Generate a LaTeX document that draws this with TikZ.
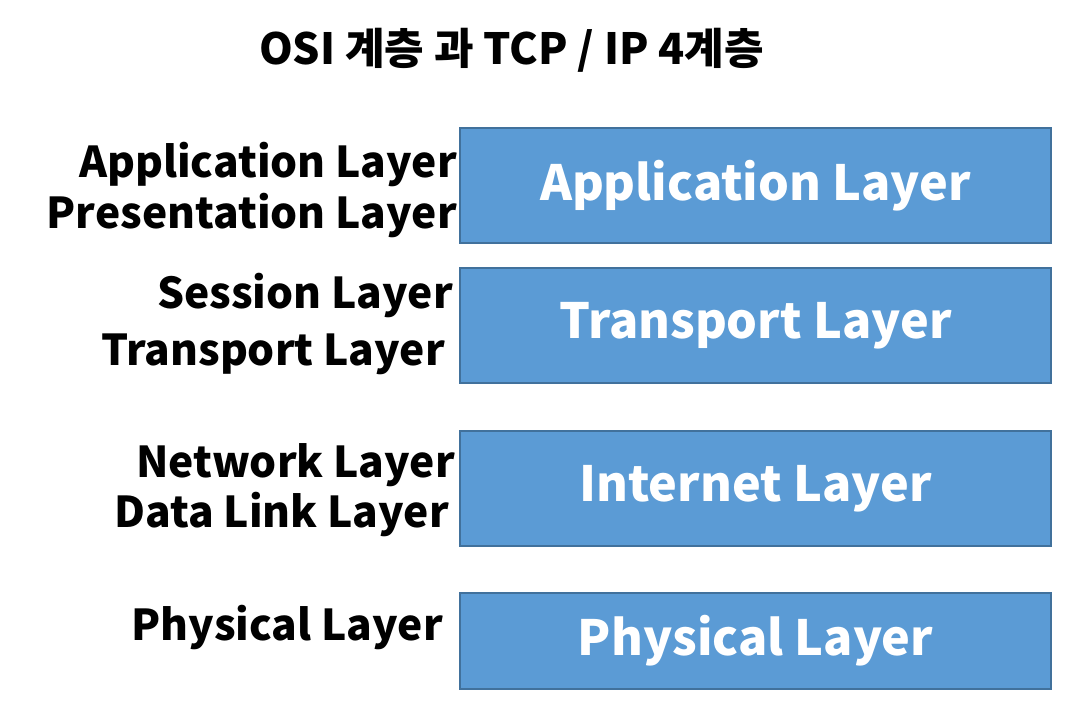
\documentclass[tikz,border=0pt]{standalone}
\usepackage{fontspec}
\setmainfont{Noto Sans CJK KR}
\usetikzlibrary{positioning}
\definecolor{layerfill}{HTML}{5B9BD5}
\definecolor{layerline}{HTML}{41719C}
\tikzset{
    layer/.style={draw=layerline,line width=2pt,fill=layerfill,text=white,
        font=\fontsize{48.5}{48.5}\selectfont\bfseries,inner sep=0pt},
    osi/.style={anchor=base east,inner sep=0pt,font=\fontsize{42.5}{42.5}\selectfont\bfseries}
}
\begin{document}
\begin{tikzpicture}[x=1pt,y=-1pt]
    % Definitions
    \useasboundingbox (0,0) rectangle (1071,706);
    % Title
    \node[font=\fontsize{43}{43}\selectfont\bfseries] (title) at (511.5,50) {OSI 계층 과 TCP / IP 4계층};
    % TCP/IP layers
    \node[layer,minimum width=591pt,minimum height=115pt] (app) at (755.5,185.5) {Application Layer};
    \node[layer,minimum width=591pt,minimum height=115pt] (trans) at (755.5,325.5) {Transport Layer};
    \node[layer,minimum width=591pt,minimum height=115pt] (inet) at (755.5,488.5) {Internet Layer};
    \node[layer,minimum width=591pt,minimum height=96pt] (phys) at (755.5,641) {Physical Layer};
    % OSI layers
    \node[osi] (oapp) at (457,178) {Application Layer};
    \node[osi] (opres) at (457,228) {Presentation Layer};
    \node[osi] (osess) at (453,308) {Session Layer};
    \node[osi] (otrans) at (445,365) {Transport Layer};
    \node[osi] (onet) at (455,477) {Network Layer};
    \node[osi] (odata) at (449,527) {Data Link Layer};
    \node[osi] (ophys) at (443,640) {Physical Layer};
\end{tikzpicture}
\end{document}
